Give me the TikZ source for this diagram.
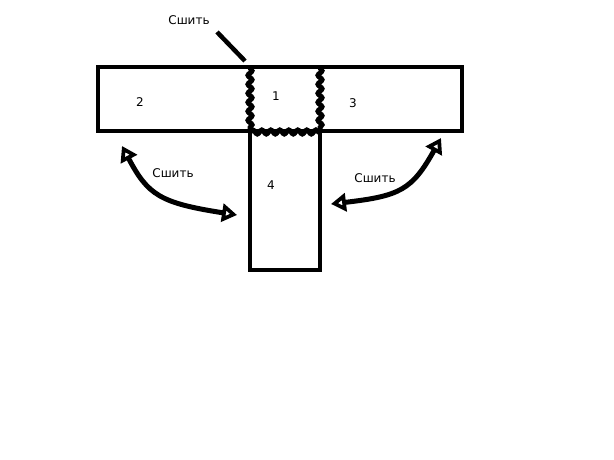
\documentclass[tikz,border=0pt]{standalone}
\usepackage{fontspec}
\setmainfont{DejaVu Sans}
\usetikzlibrary{arrows.meta,decorations.pathmorphing}
\begin{document}
\begin{tikzpicture}[x=1pt,y=-1pt,
  bar/.style={draw=black,line width=4pt},
  seam/.style={draw=black,line width=5pt,decorate,decoration={snake,segment length=9pt,amplitude=2pt}},
  lbl/.style={font=\fontsize{12}{14}\selectfont,inner sep=0pt},
  dbl/.style={line width=5pt,{Triangle[open,length=15pt,width=18pt]}-{Triangle[open,length=15pt,width=18pt]}}]
\useasboundingbox[fill=white] (0,0) rectangle (614,460);
% bars
\draw[bar] (98,67) rectangle (462,131);
\draw[bar] (250,131) rectangle (320,270);
% seams
\coordinate (sTL) at (250,68);
\coordinate (sBL) at (250,132);
\coordinate (sTR) at (320,68);
\coordinate (sBR) at (320,132);
\draw[seam] (sTL) -- (sBL);
\draw[seam] (sTR) -- (sBR);
\draw[seam] (sBL) -- (sBR);
% labels
\node[lbl] (n1) at (276,96) {1};
\node[lbl] (n2) at (140,102) {2};
\node[lbl] (n3) at (353,103) {3};
\node[lbl] (n4) at (271,185) {4};
\node[lbl] (t1) at (189,20) {Сшить};
\node[lbl] (t2) at (173,173) {Сшить};
\node[lbl] (t3) at (375,178) {Сшить};
% pointer
\coordinate (p1) at (217,32);
\coordinate (p2) at (245,61);
\draw[line width=4.5pt] (p1) -- (p2);
% double arrows
\coordinate (a1) at (122,146);
\coordinate (a2) at (237,215);
\draw[dbl] (a1) .. controls (148,195) and (160,203) .. (a2);
\coordinate (b1) at (331,204);
\coordinate (b2) at (441,138);
\draw[dbl] (b1) .. controls (400,196) and (412,190) .. (b2);
\end{tikzpicture}
\end{document}
